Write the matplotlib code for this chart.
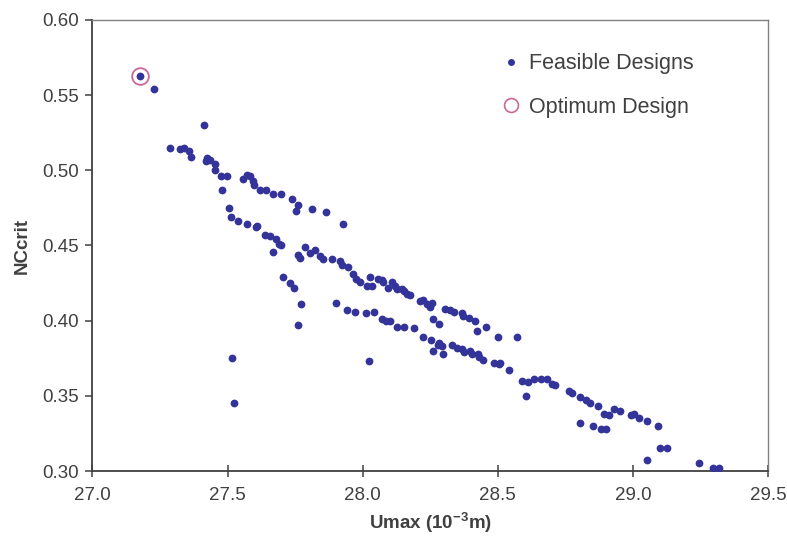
import numpy as np
import matplotlib
matplotlib.use("Agg")
import matplotlib.pyplot as plt
from matplotlib.lines import Line2D

plt.rcParams.update({
    "font.family": "Liberation Sans",
    "mathtext.fontset": "custom",
    "mathtext.rm": "Liberation Sans",
    "mathtext.bf": "Liberation Sans:bold",
    "mathtext.default": "bf",
})

# feasible designs (Umax in 1e-3 m, NCcrit)
umax = [
    27.177, 27.229, 27.413, 27.286, 27.323, 27.339, 27.357, 27.366, 27.422, 27.434,
    27.419, 27.453, 27.453, 27.475, 27.499, 27.481, 27.557, 27.570, 27.582, 27.595,
    27.598, 27.619, 27.644, 27.669, 27.697, 27.737, 27.762, 27.755, 27.811, 27.863,
    27.926, 27.506, 27.511, 27.539, 27.570, 27.605, 27.609, 27.638, 27.657, 27.681,
    27.690, 27.697, 27.667, 27.706, 27.731, 27.747, 27.772, 27.759, 27.516, 27.523,
    27.762, 27.768, 27.786, 27.805, 27.823, 27.842, 27.854, 27.885, 27.916, 27.922,
    27.947, 27.965, 27.977, 27.990, 28.015, 28.033, 28.027, 28.058, 28.070, 28.076,
    28.095, 28.108, 28.120, 28.126, 28.145, 28.151, 28.163, 28.176, 28.213, 28.225,
    28.237, 28.250, 28.256, 28.262, 28.281, 28.306, 28.324, 28.337, 28.367, 28.373,
    28.392, 28.417, 28.423, 28.458, 28.501, 28.571, 27.901, 27.941, 27.972, 28.013,
    28.042, 28.071, 28.087, 28.102, 28.126, 28.151, 28.190, 28.225, 28.252, 28.262,
    28.277, 28.284, 28.293, 28.299, 28.330, 28.349, 28.367, 28.376, 28.398, 28.404,
    28.425, 28.429, 28.445, 28.025, 28.485, 28.503, 28.509, 28.540, 28.590, 28.611,
    28.606, 28.633, 28.658, 28.683, 28.701, 28.710, 28.763, 28.775, 28.804, 28.825,
    28.843, 28.872, 28.893, 28.911, 28.930, 28.952, 28.992, 29.004, 29.023, 29.051,
    29.094, 29.100, 29.125, 29.051, 29.245, 29.295, 29.320, 28.806, 28.853, 28.881,
    28.899,
]
nccrit = [
    0.563, 0.554, 0.530, 0.515, 0.514, 0.515, 0.513, 0.509, 0.508, 0.507,
    0.506, 0.504, 0.500, 0.496, 0.496, 0.487, 0.494, 0.497, 0.496, 0.493,
    0.490, 0.487, 0.487, 0.484, 0.484, 0.481, 0.477, 0.473, 0.474, 0.472,
    0.464, 0.475, 0.469, 0.466, 0.464, 0.462, 0.463, 0.457, 0.456, 0.454,
    0.451, 0.450, 0.446, 0.429, 0.425, 0.422, 0.411, 0.397, 0.375, 0.345,
    0.444, 0.442, 0.449, 0.445, 0.447, 0.443, 0.441, 0.441, 0.440, 0.437,
    0.436, 0.431, 0.428, 0.426, 0.423, 0.423, 0.429, 0.428, 0.427, 0.426,
    0.422, 0.426, 0.423, 0.421, 0.421, 0.420, 0.418, 0.417, 0.413, 0.414,
    0.411, 0.409, 0.412, 0.401, 0.398, 0.408, 0.407, 0.406, 0.405, 0.403,
    0.402, 0.400, 0.393, 0.396, 0.389, 0.389, 0.412, 0.407, 0.406, 0.405,
    0.406, 0.401, 0.400, 0.400, 0.396, 0.396, 0.395, 0.389, 0.387, 0.380,
    0.384, 0.385, 0.383, 0.378, 0.384, 0.382, 0.381, 0.379, 0.380, 0.378,
    0.378, 0.376, 0.374, 0.373, 0.372, 0.371, 0.372, 0.367, 0.360, 0.359,
    0.350, 0.361, 0.361, 0.361, 0.358, 0.357, 0.353, 0.352, 0.349, 0.347,
    0.345, 0.343, 0.338, 0.337, 0.341, 0.340, 0.337, 0.338, 0.335, 0.333,
    0.330, 0.315, 0.315, 0.307, 0.305, 0.302, 0.302, 0.332, 0.330, 0.328,
    0.328,
]

opt_umax = [27.177]
opt_nccrit = [0.563]

xticks = [27.0, 27.5, 28.0, 28.5, 29.0, 29.5]
yticks = [0.30, 0.35, 0.40, 0.45, 0.50, 0.55, 0.60]

navy = "#333399"
pink = "#cc6699"
dark = "#404040"

fig = plt.figure(figsize=(7.87, 5.37), dpi=100)
ax = fig.add_axes([0.1175, 0.1229, 0.8584, 0.8399])

ax.plot(umax, nccrit, "o", color=navy, markersize=5.6, markeredgewidth=0, zorder=3)
ax.plot(opt_umax, opt_nccrit, "o", markerfacecolor="none", markeredgecolor=pink,
        markersize=12, markeredgewidth=1.3, zorder=4)

ax.set_xlim(27.0, 29.5)
ax.set_ylim(0.30, 0.60)
ax.set_xticks(xticks)
ax.set_xticklabels([f"{t:.1f}" for t in xticks])
ax.set_yticks(yticks)
ax.set_yticklabels([f"{t:.2f}" for t in yticks])

ax.tick_params(axis="x", direction="inout", length=9, width=1.1, color=dark,
               labelsize=13.5, labelcolor=dark, pad=7)
ax.tick_params(axis="y", direction="out", length=5, width=1.1, color=dark,
               labelsize=13.5, labelcolor=dark, pad=5)

ax.spines["left"].set_color(dark)
ax.spines["bottom"].set_color(dark)
ax.spines["left"].set_linewidth(1.3)
ax.spines["bottom"].set_linewidth(1.3)
ax.spines["top"].set_color("#808080")
ax.spines["right"].set_color("#808080")
ax.spines["top"].set_linewidth(1.0)
ax.spines["right"].set_linewidth(1.0)

ax.set_xlabel(r"Umax (10$^{-3}$m)", fontsize=13.5, fontweight="bold", color=dark, labelpad=5)
ax.set_ylabel("NCcrit", fontsize=13.5, fontweight="bold", color=dark, labelpad=8)

handles = [
    Line2D([], [], marker="o", linestyle="none", color=navy, markersize=5, markeredgewidth=0),
    Line2D([], [], marker="o", linestyle="none", markerfacecolor="none",
           markeredgecolor=pink, markersize=10, markeredgewidth=1.2),
]
leg = ax.legend(handles, ["Feasible Designs", "Optimum Design"], loc="upper left",
                bbox_to_anchor=(0.582, 0.969), frameon=False, fontsize=15.5,
                handlelength=0.55, handletextpad=0.55, labelspacing=1.05)
for t in leg.get_texts():
    t.set_color(dark)

fig.savefig("out.png", dpi=100)
